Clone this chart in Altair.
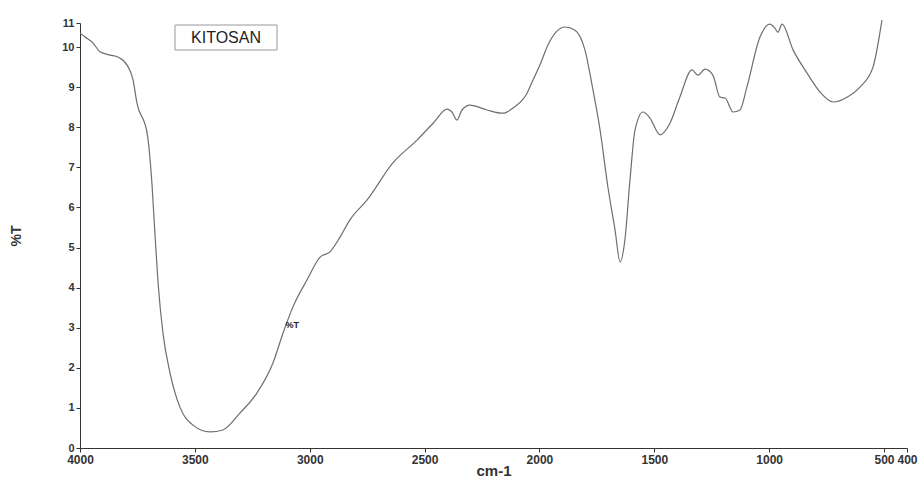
import altair as alt
import pandas as pd

# Wavenumber (cm-1) and %T readings of the KITOSAN spectrum
wavenumber = [4000, 3978, 3943, 3913, 3869, 3835, 3795, 3769, 3752, 3708,
              3687, 3674, 3660, 3639, 3608, 3565, 3508, 3434, 3378, 3304,
              3230, 3160, 3116, 3073, 3012, 2955, 2912, 2868, 2825, 2751,
              2638, 2533, 2463, 2402, 2381, 2359, 2337, 2302, 2228, 2159,
              2115, 2054, 2028, 1998, 1963, 1928, 1889, 1845, 1802, 1767,
              1736, 1702, 1671, 1649, 1628, 1606, 1584, 1549, 1519, 1475,
              1432, 1389, 1336, 1310, 1279, 1245, 1214, 1192, 1157, 1127,
              1097, 1040, 997, 975, 962, 944, 896, 835, 779, 722,
              661, 605, 548, 509]
transmittance = [10.35, 10.25, 10.10, 9.88, 9.80, 9.75, 9.55, 9.18, 8.60, 7.86,
                 6.61, 5.36, 4.11, 2.87, 1.87, 1.02, 0.57, 0.40, 0.45, 0.87,
                 1.37, 2.12, 2.87, 3.52, 4.19, 4.76, 4.89, 5.26, 5.69, 6.18,
                 7.11, 7.68, 8.10, 8.45, 8.38, 8.18, 8.43, 8.55, 8.43, 8.35,
                 8.48, 8.85, 9.18, 9.55, 10.05, 10.37, 10.50, 10.42, 9.93, 8.93,
                 7.93, 6.51, 5.44, 4.64, 5.19, 6.68, 7.93, 8.38, 8.23, 7.81,
                 8.10, 8.75, 9.43, 9.30, 9.45, 9.30, 8.75, 8.73, 8.38, 8.43,
                 9.00, 10.25, 10.57, 10.47, 10.37, 10.57, 9.93, 9.35, 8.88, 8.63,
                 8.75, 9.00, 9.50, 10.67]

x_ticks = [4000, 3500, 3000, 2500, 2000, 1500, 1000, 500, 400]
y_ticks = [0, 1, 2, 3, 4, 5, 6, 7, 8, 9, 10, 10.6]
title_text = "KITOSAN"
marker_text = ["%T"]
marker_wn = [3105]
marker_t = [3.07]

df = pd.DataFrame({"wn": wavenumber, "t": transmittance})
mk = pd.DataFrame({"wn": marker_wn, "t": marker_t, "label": marker_text})

W, H = 827, 425
FONT = "Liberation Sans"

x_scale = alt.Scale(domain=[4000, 400], nice=False, zero=False)
y_scale = alt.Scale(domain=[0, 10.6], nice=False, zero=True)

x_axis = alt.Axis(values=x_ticks, title="cm-1", grid=False, domainColor="#333",
                  tickColor="#333", tickSize=4, labelFont=FONT, labelFontSize=12,
                  labelFontWeight="bold", labelColor="#333", labelOverlap=False,
                  labelFlush=False, labelPadding=2, format="d",
                  titleFont=FONT, titleFontSize=15, titleFontWeight="bold",
                  titleColor="#333", titlePadding=-2)
y_axis = alt.Axis(values=y_ticks, title="%T", grid=False, domainColor="#333",
                  tickColor="#333", tickSize=4, labelFont=FONT, labelFontSize=11,
                  labelFontWeight="bold", labelColor="#333", labelOverlap=False,
                  labelExpr="datum.value > 10.5 ? '11' : datum.label",
                  labelFlush=False, labelPadding=2,
                  titleFont=FONT, titleFontSize=14, titleFontWeight="bold",
                  titleColor="#333", titlePadding=38)

line = alt.Chart(df).mark_line(color="#6e6e6e", strokeWidth=1.2, interpolate="monotone").encode(
    x=alt.X("wn:Q", scale=x_scale, axis=x_axis),
    y=alt.Y("t:Q", scale=y_scale, axis=y_axis),
    order="index:Q",
).transform_window(index="row_number()")

marker = alt.Chart(mk).mark_text(font=FONT, fontSize=9, fontWeight="bold",
                                 color="#222", align="left").encode(
    x=alt.X("wn:Q", scale=x_scale, axis=x_axis),
    y=alt.Y("t:Q", scale=y_scale, axis=y_axis),
    text="label:N",
)

box = alt.Chart(pd.DataFrame({"k": [0]})).mark_rect(
    fill="white", stroke="#999", strokeWidth=1).encode(
    x=alt.value(95), x2=alt.value(197), y=alt.value(2), y2=alt.value(27))

title = alt.Chart(pd.DataFrame({"label": [title_text]})).mark_text(
    font=FONT, fontSize=16, color="#222", align="center", baseline="middle").encode(
    x=alt.value(146), y=alt.value(15), text="label:N")

chart = alt.layer(line, box, title, marker).properties(
    width=W, height=H,
    background="white",
    autosize=alt.AutoSizeParams(type="none"),
    padding={"left": 80, "top": 23, "right": 17, "bottom": 34},
).configure_view(strokeWidth=0, stroke="transparent").configure_axis(grid=False)

chart.save("out.html", embed_options={"renderer": "svg", "actions": False})
